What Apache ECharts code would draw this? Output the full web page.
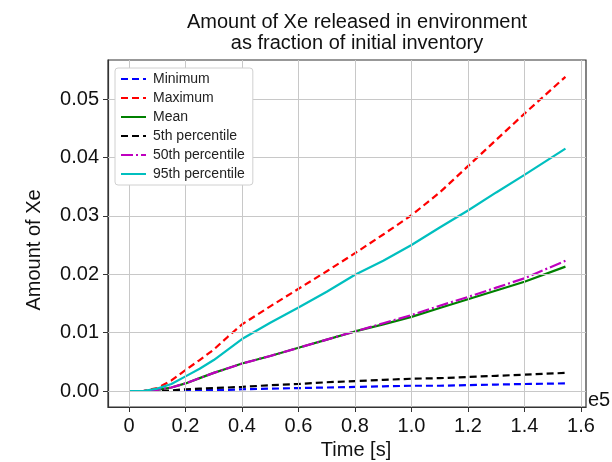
<!DOCTYPE html>
<html>
<head>
<meta charset="utf-8">
<script src="https://cdn.jsdelivr.net/npm/echarts@6/dist/echarts.min.js"></script>
<style>html,body{margin:0;padding:0;background:#fff}#c{width:612px;height:462px}</style>
</head>
<body>
<div id="c"></div>
<script>
// time in units of 1e5 s
var times = [0, 0.05, 0.1, 0.15, 0.2, 0.25, 0.3, 0.35, 0.4, 0.5, 0.6, 0.7, 0.8, 0.9, 1.0, 1.1, 1.2, 1.3, 1.4, 1.545];
var minimum = [0, 0, 0, 0, 0.0001, 0.0001, 0.0002, 0.0002, 0.0003, 0.0004, 0.0005, 0.0006, 0.0007, 0.0008, 0.0009, 0.0009, 0.0010, 0.0011, 0.0012, 0.0013];
var maximum = [0, 0, 0.0005, 0.0018, 0.0036, 0.0053, 0.0071, 0.0093, 0.0114, 0.0145, 0.0175, 0.0205, 0.0236, 0.0268, 0.0301, 0.0340, 0.0385, 0.0430, 0.0475, 0.0538];
var mean = [0, 0, 0.0002, 0.0006, 0.0013, 0.0022, 0.0031, 0.0039, 0.0047, 0.0060, 0.0074, 0.0088, 0.0102, 0.0114, 0.0127, 0.0142, 0.0157, 0.0172, 0.0187, 0.0213];
var p5 = [0, 0, 0, 0.0001, 0.0003, 0.0004, 0.0005, 0.0006, 0.0007, 0.0010, 0.0012, 0.0015, 0.0017, 0.0019, 0.0021, 0.0022, 0.0024, 0.0026, 0.0028, 0.0031];
var p50 = [0, 0, 0.0002, 0.0006, 0.0013, 0.0022, 0.0031, 0.0039, 0.0047, 0.0060, 0.0074, 0.0088, 0.0102, 0.0116, 0.0130, 0.0146, 0.0161, 0.0177, 0.0193, 0.0223];
var p95 = [0, 0, 0.0004, 0.0012, 0.0025, 0.0038, 0.0053, 0.0071, 0.0089, 0.0117, 0.0143, 0.0170, 0.0199, 0.0223, 0.0250, 0.0280, 0.0309, 0.0340, 0.0370, 0.0415];
var xTicks = [0, 0.2, 0.4, 0.6, 0.8, 1.0, 1.2, 1.4, 1.6];
var xTickLabels = ['0', '0.2', '0.4', '0.6', '0.8', '1.0', '1.2', '1.4', '1.6'];
var yTicks = [0, 0.01, 0.02, 0.03, 0.04, 0.05];
var yTickLabels = ['0.00', '0.01', '0.02', '0.03', '0.04', '0.05'];

function pairs(v) { return times.map(function (t, i) { return [t, v[i]]; }); }

var FONT = 'Liberation Sans, Arial, sans-serif';
var chart = echarts.init(document.getElementById('c'), null, {renderer: 'canvas'});

function mkSeries(name, vals, color, type, width) {
  return {
    name: name, type: 'line', data: pairs(vals), symbol: 'none', smooth: false,
    lineStyle: {color: color, width: width || 2.2, type: type},
    itemStyle: {color: color}, z: 3, animation: false
  };
}

var gridLines = {
  name: '_grid', type: 'line', data: [], silent: true, z: 1, animation: false,
  markLine: {
    silent: true, symbol: 'none', label: {show: false}, animation: false,
    lineStyle: {color: '#c8c8c8', width: 1, type: 'solid'},
    data: xTicks.map(function (v) { return {xAxis: v}; }).concat(yTicks.map(function (v) { return {yAxis: v}; }))
  }
};

var option = {
  animation: false,
  backgroundColor: '#ffffff',
  title: {
    text: 'Amount of Xe released in environment\nas fraction of initial inventory',
    left: 352, top: 7, textAlign: 'center',
    textStyle: {fontFamily: FONT, fontSize: 20, fontWeight: 'normal', color: '#111', lineHeight: 21}
  },
  grid: {left: 108, top: 60, right: 26, bottom: 55, show: true, borderColor: '#333', borderWidth: 1.2, backgroundColor: 'transparent'},
  legend: {
    orient: 'vertical', left: 115, top: 68, z: 10,
    data: ['Minimum', 'Maximum', 'Mean', '5th percentile', '50th percentile', '95th percentile'],
    itemWidth: 25, itemHeight: 12, itemGap: 5,
    padding: [4, 8, 4, 5],
    itemStyle: {opacity: 0},
    backgroundColor: '#ffffff', borderColor: '#d0d0d0', borderWidth: 1, borderRadius: 3,
    textStyle: {fontFamily: FONT, fontSize: 14, color: '#222', lineHeight: 14, padding: [0, 0, 0, 2]}
  },
  xAxis: {
    type: 'value', min: -0.0744, max: 1.6178,
    axisLine: {show: true, onZero: false, lineStyle: {color: '#333', width: 1.2}},
    axisTick: {show: true, length: 5, customValues: xTicks, lineStyle: {color: '#333'}},
    axisLabel: {customValues: xTicks, fontFamily: FONT, fontSize: 20, color: '#111', margin: 9,
      formatter: function (v) { var i = xTicks.indexOf(v); return i >= 0 ? xTickLabels[i] : ''; }},
    splitLine: {show: false}
  },
  yAxis: {
    type: 'value', min: -0.00274, max: 0.05668,
    axisLine: {show: true, onZero: false, lineStyle: {color: '#333', width: 1.2}},
    axisTick: {show: true, length: 5, customValues: yTicks, lineStyle: {color: '#333'}},
    axisLabel: {customValues: yTicks, fontFamily: FONT, fontSize: 20, color: '#111', margin: 9,
      formatter: function (v) { var i = yTicks.indexOf(v); return i >= 0 ? yTickLabels[i] : ''; }},
    splitLine: {show: false}
  },
  graphic: [
    {type: 'text', left: 588, top: 390, style: {text: 'e5', font: '20px ' + FONT, fill: '#111'}},
    {type: 'text', x: 356, y: 450, style: {text: 'Time [s]', font: '20px ' + FONT, fill: '#111', align: 'center', verticalAlign: 'middle'}},
    {type: 'text', x: 34, y: 250, rotation: Math.PI / 2, style: {text: 'Amount of Xe', font: '20px ' + FONT, fill: '#111', align: 'center', verticalAlign: 'middle'}}
  ],
  series: [
    gridLines,
    mkSeries('Minimum', minimum, '#0000ff', [7, 4]),
    mkSeries('Maximum', maximum, '#ff0000', [7, 4]),
    mkSeries('Mean', mean, '#008000', 'solid'),
    mkSeries('5th percentile', p5, '#000000', [7, 4]),
    mkSeries('50th percentile', p50, '#bf00bf', [12, 3, 2, 3]),
    mkSeries('95th percentile', p95, '#00bfbf', 'solid')
  ]
};
chart.setOption(option);
</script>
</body>
</html>
